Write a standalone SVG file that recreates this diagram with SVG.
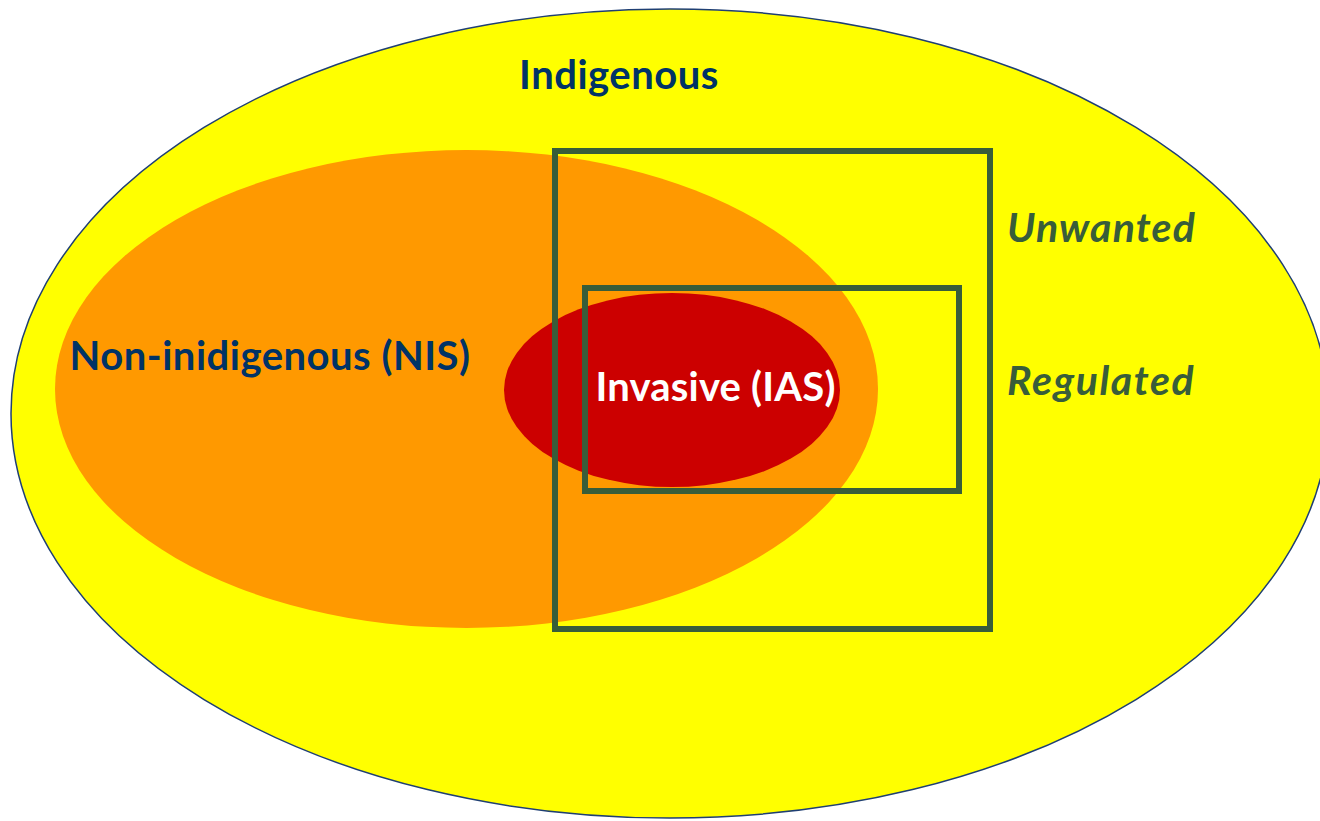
<svg xmlns="http://www.w3.org/2000/svg" width="1320" height="821" viewBox="0 0 1320 821">
<style>
.lbl{font-family:Lato,"Open Sans","Liberation Sans",sans-serif;font-weight:bold;font-size:40px;letter-spacing:0.5px}
.blue{fill:#003366}
.white{fill:#ffffff}
.green{fill:#385d3a;font-style:italic;font-size:41px;letter-spacing:1.2px}
.box{fill:none;stroke:#385d3a;stroke-width:6}
</style>
<rect width="1320" height="821" fill="#ffffff"/>
<g id="indigenous">
<ellipse cx="670" cy="413.5" rx="659" ry="404.5" fill="#ffff00" stroke="#1f3f73" stroke-width="1.5"/>
<text class="lbl blue" x="619" y="89" text-anchor="middle">Indigenous</text>
</g>
<g id="nis">
<ellipse cx="466.5" cy="389" rx="411.5" ry="239" fill="#ff9900"/>
<text class="lbl blue" x="270" y="370" text-anchor="middle">Non-inidigenous (NIS)</text>
</g>
<g id="ias">
<ellipse cx="672" cy="390" rx="168" ry="97" fill="#cc0000"/>
<text class="lbl white" x="715.5" y="401" text-anchor="middle" style="letter-spacing:0.2px">Invasive (IAS)</text>
</g>
<g id="unwanted">
<rect class="box" x="555" y="151" width="435" height="478"/>
<text class="lbl green" x="1007" y="242">Unwanted</text>
</g>
<g id="regulated">
<rect class="box" x="585" y="288" width="374" height="203"/>
<text class="lbl green" x="1007" y="395" style="letter-spacing:1.6px">Regulated</text>
</g>
<g id="connectors"></g>
</svg>
